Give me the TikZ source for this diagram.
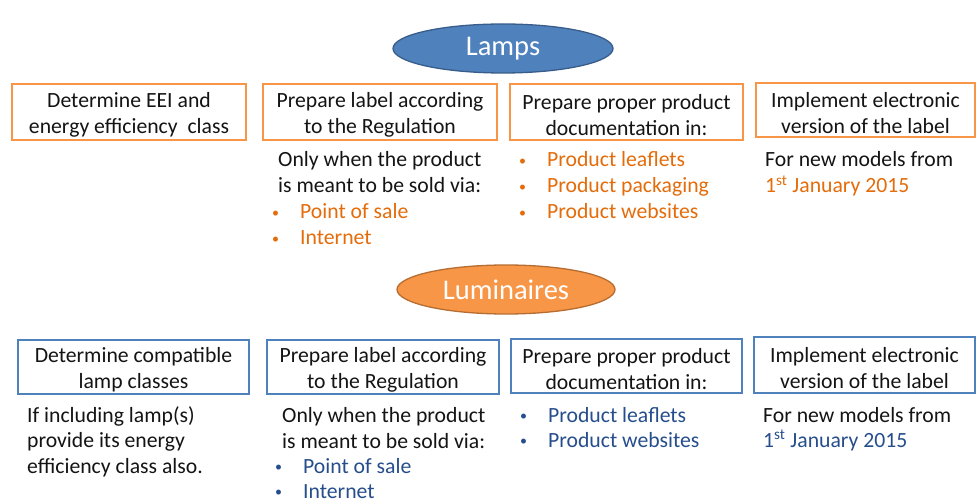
\documentclass[tikz,border=0pt]{standalone}
\usepackage{fontspec}
\setmainfont{Carlito}
\usetikzlibrary{shapes.geometric}

\definecolor{ink}{RGB}{20,20,20}
\definecolor{lampsfill}{RGB}{79,129,189}
\definecolor{lampsedge}{RGB}{56,93,138}
\definecolor{lumfill}{RGB}{247,150,70}
\definecolor{lumedge}{RGB}{182,109,49}
\definecolor{orangeline}{RGB}{247,150,70}
\definecolor{blueline}{RGB}{79,129,189}
\definecolor{orangetext}{RGB}{228,108,10}
\definecolor{bluetext}{RGB}{38,78,140}

\newcommand\bodyfont{\fontsize{21.7}{26}\selectfont}
\newcommand\headfont{\fontsize{28.5}{32}\selectfont}
\newcommand\itembul[1]{\llap{\raisebox{1.5pt}{\fontsize{14}{14}\selectfont\textbullet}\hspace{21pt}}#1}
% extra height on a box's first line pushes its two lines a little lower
\newcommand\toprule{\rule{0pt}{21pt}}

\tikzset{
  head/.style={ellipse, line width=1.3pt, inner sep=0pt, text=white, font=\headfont},
  stepbox/.style={draw, line width=1.8pt, fill=white, inner sep=0pt, align=center,
    text=ink, font=\bodyfont},
  lampstep/.style={stepbox, draw=orangeline},
  lumstep/.style={stepbox, draw=blueline},
  txt/.style={anchor=base west, inner sep=0pt, text=ink, font=\bodyfont},
  otxt/.style={txt, text=orangetext},
  btxt/.style={txt, text=bluetext}
}

\begin{document}
\begin{tikzpicture}[x=1pt,y=-1pt]
\useasboundingbox[fill=white] (0,0) rectangle (976,502);

% ---- Lamps ----
\node[head, draw=lampsedge, fill=lampsfill, minimum width=220pt, minimum height=49pt]
  (lamps) at (503,48.5) {\raisebox{2pt}{Lamps}};

\node[lampstep, minimum width=234pt, minimum height=56pt] (ta) at (129,112)
  {\toprule Determine EEI and\\energy efficiency~~class};
\node[lampstep, minimum width=234pt, minimum height=56pt] (tb) at (380,112)
  {\toprule Prepare label according\\to the Regulation};
\node[lampstep, minimum width=233pt, minimum height=56pt] (tc) at (626.5,112)
  {\toprule Prepare proper product\\documentation in:};
\node[lampstep, minimum width=219pt, minimum height=54pt] (td) at (865.5,110)
  {\toprule Implement electronic\\version of the label};

\node[txt]  (tb1) at (278,167) {Only when the product};
\node[txt]  (tb2) at (278,193) {is meant to be sold via:};
\node[otxt] (tb3) at (300,219) {\itembul{Point of sale}};
\node[otxt] (tb4) at (300,245) {\itembul{Internet}};

\node[otxt] (tc1) at (547,167) {\itembul{Product leaflets}};
\node[otxt] (tc2) at (547,193) {\itembul{Product packaging}};
\node[otxt] (tc3) at (547,219) {\itembul{Product websites}};

\node[txt]  (td1) at (765,167) {For new models from};
\node[otxt] (td2) at (765,193) {1\textsuperscript{st} January 2015};

% ---- Luminaires ----
\node[head, draw=lumedge, fill=lumfill, minimum width=218pt, minimum height=49pt]
  (lum) at (506,289.5) {Luminaires};

\node[lumstep, minimum width=231pt, minimum height=54pt] (ba) at (133.5,367)
  {\toprule Determine compatible\\lamp classes};
\node[lumstep, minimum width=232pt, minimum height=54pt] (bb) at (383,367)
  {\toprule Prepare label according\\to the Regulation};
\node[lumstep, minimum width=231pt, minimum height=54pt] (bc) at (626.5,366)
  {\toprule Prepare proper product\\documentation in:};
\node[lumstep, minimum width=221pt, minimum height=56pt] (bd) at (864.5,365)
  {\toprule Implement electronic\\version of the label};

\node[txt] (ba1) at (27,422) {If including lamp(s)};
\node[txt] (ba2) at (27,447) {provide its energy};
\node[txt] (ba3) at (27,473) {efficiency class also.};

\node[txt]  (bb1) at (282,422) {Only when the product};
\node[txt]  (bb2) at (282,448) {is meant to be sold via:};
\node[btxt] (bb3) at (303,473) {\itembul{Point of sale}};
\node[btxt] (bb4) at (303,498) {\itembul{Internet}};

\node[btxt] (bc1) at (548,422) {\itembul{Product leaflets}};
\node[btxt] (bc2) at (548,447) {\itembul{Product websites}};

\node[txt]  (bd1) at (763,422) {For new models from};
\node[btxt] (bd2) at (763,447) {1\textsuperscript{st} January 2015};
\end{tikzpicture}
\end{document}
